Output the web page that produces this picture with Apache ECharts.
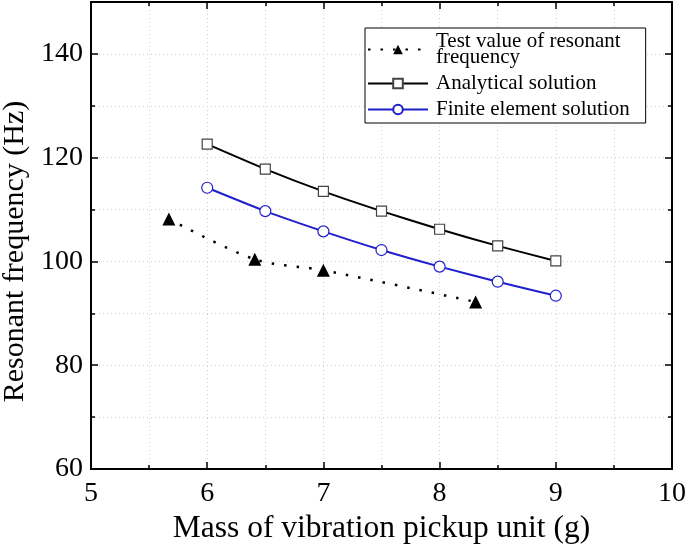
<!DOCTYPE html>
<html>
<head>
<meta charset="utf-8">
<script src="https://cdn.jsdelivr.net/npm/echarts@6/dist/echarts.min.js"></script>
<style>
html, body { margin: 0; padding: 0; background: #fff; }
#main { width: 685px; height: 544px; }
</style>
</head>
<body>
<div id="main"></div>
<script>
// data
var testMass = [5.67, 6.41, 7.0, 8.31];
var testFreq = [108.2, 100.4, 98.3, 92.2];
var calcMass = [6, 6.5, 7, 7.5, 8, 8.5, 9];
var analyticalFreq = [122.6, 117.8, 113.5, 109.7, 106.2, 103.0, 100.1];
var feFreq = [114.2, 109.7, 105.8, 102.2, 99.0, 96.1, 93.4];

var seriesNames = ['Test value of resonant\nfrequency', 'Analytical solution', 'Finite element solution'];

function pairs(xs, ys) {
    return xs.map(function (x, i) { return [x, ys[i]]; });
}

var font = 'Liberation Serif';
var myChart = echarts.init(document.getElementById('main'));

var gridLine = { show: true, lineStyle: { color: '#cfcfcf', type: [1, 3], width: 1 } };
var tickStyle = { color: '#000', width: 1.5 };

var option = {
    backgroundColor: '#fff',
    animation: false,
    textStyle: { fontFamily: font },
    grid: { left: 91, right: 13, top: 2, bottom: 75, outerBoundsMode: 'none', containLabel: false },
    legend: {
        orient: 'vertical',
        left: 365,
        top: 28,
        padding: [3, 16, 3, 2],
        itemWidth: 60,
        itemHeight: 12,
        itemGap: 5,
        backgroundColor: '#fff',
        borderColor: '#000',
        borderWidth: 1,
        textStyle: { fontFamily: font, fontSize: 21, color: '#000', lineHeight: 16, padding: [0, 0, 0, 3] },
        data: seriesNames
    },
    xAxis: [{
        type: 'value', min: 5, max: 10, interval: 1,
        name: 'Mass of vibration pickup unit (g)',
        nameLocation: 'middle', nameGap: 38,
        nameTextStyle: { fontFamily: font, fontSize: 31.5, fontWeight: 'normal', color: '#000' },
        axisLine: { show: true, onZero: false, lineStyle: { color: '#000', width: 2 } },
        axisTick: { show: true, inside: true, length: 7, lineStyle: tickStyle },
        minorTick: { show: true, splitNumber: 2, length: 4, lineStyle: tickStyle },
        axisLabel: { fontFamily: font, fontSize: 28, color: '#000', margin: 11 },
        splitLine: gridLine,
        minorSplitLine: gridLine
    }, {
        type: 'value', min: 5, max: 10, interval: 1, position: 'top',
        axisLine: { show: true, onZero: false, lineStyle: { color: '#000', width: 2 } },
        axisTick: { show: true, inside: true, length: 7, lineStyle: tickStyle },
        minorTick: { show: true, splitNumber: 2, length: 4, lineStyle: tickStyle },
        axisLabel: { show: false },
        splitLine: { show: false }
    }],
    yAxis: [{
        type: 'value', min: 60, max: 150, interval: 20,
        name: 'Resonant frequency (Hz)',
        nameLocation: 'middle', nameGap: 56,
        nameTextStyle: { fontFamily: font, fontSize: 30, fontWeight: 'normal', color: '#000', padding: [0, 32, 0, 0] },
        axisLine: { show: true, onZero: false, lineStyle: { color: '#000', width: 2 } },
        axisTick: { show: true, inside: true, length: 7, lineStyle: tickStyle },
        minorTick: { show: true, splitNumber: 2, length: 4, lineStyle: tickStyle },
        axisLabel: { fontFamily: font, fontSize: 28, color: '#000', margin: 8, showMaxLabel: false },
        splitLine: gridLine,
        minorSplitLine: gridLine
    }, {
        type: 'value', min: 60, max: 150, interval: 20, position: 'right',
        axisLine: { show: true, onZero: false, lineStyle: { color: '#000', width: 2 } },
        axisTick: { show: true, inside: true, length: 7, lineStyle: tickStyle },
        minorTick: { show: true, splitNumber: 2, length: 4, lineStyle: tickStyle },
        axisLabel: { show: false },
        splitLine: { show: false }
    }],
    series: [{
        name: seriesNames[0],
        type: 'line',
        smooth: 0.3,
        data: pairs(testMass, testFreq),
        symbol: 'triangle',
        symbolSize: 13,
        itemStyle: { color: '#000' },
        lineStyle: { color: '#000', width: 2.5, type: [2.5, 10] }
    }, {
        name: seriesNames[1],
        type: 'line',
        smooth: 0.2,
        data: pairs(calcMass, analyticalFreq),
        symbol: 'rect',
        symbolSize: 10,
        itemStyle: { color: '#fff', borderColor: '#444', borderWidth: 1.2 },
        lineStyle: { color: '#000', width: 2 },
        z: 3
    }, {
        name: seriesNames[2],
        type: 'line',
        smooth: 0.2,
        data: pairs(calcMass, feFreq),
        symbol: 'circle',
        symbolSize: 11,
        itemStyle: { color: '#fff', borderColor: '#1f1fcc', borderWidth: 1.2 },
        lineStyle: { color: '#1f1fcc', width: 2 },
        z: 3
    }]
};

myChart.setOption(option);
</script>
</body>
</html>
